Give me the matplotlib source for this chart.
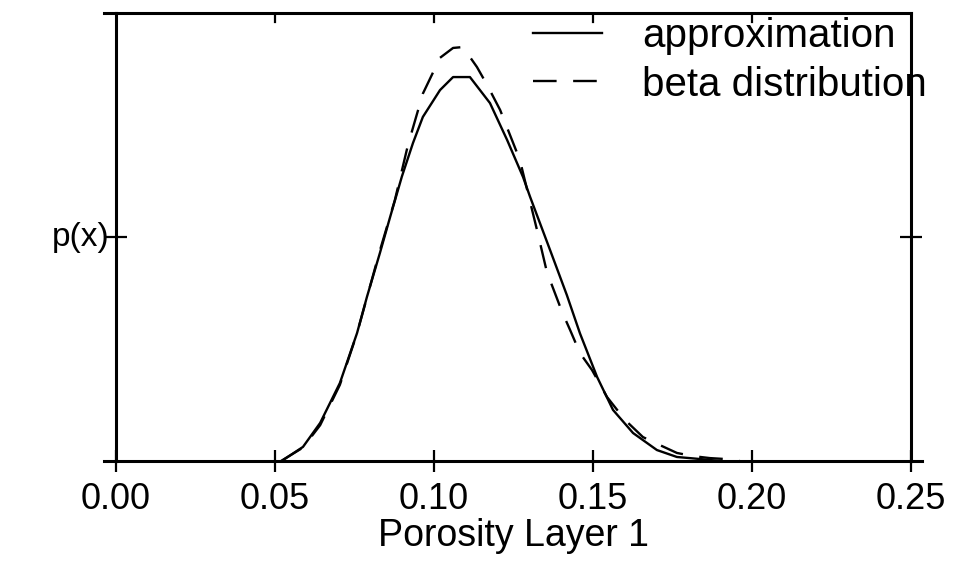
import matplotlib
matplotlib.use('Agg')
import matplotlib.pyplot as plt

plt.rcParams['font.family'] = ['Liberation Sans', 'DejaVu Sans']

# approximation curve
x_approx = [0.0525, 0.0588, 0.0642, 0.0704, 0.0758, 0.0789, 0.0830, 0.0862, 0.0899,
            0.0934, 0.0965, 0.1019, 0.1060, 0.1113, 0.1176, 0.1230, 0.1280, 0.1302,
            0.1365, 0.1418, 0.1459, 0.1513, 0.1563, 0.1626, 0.1701, 0.1764, 0.1836, 0.1899]
y_approx = [0.04, 0.63, 1.70, 3.48, 5.71, 7.32, 9.29, 10.89, 12.70,
            14.20, 15.36, 16.56, 17.14, 17.14, 15.98, 14.33, 12.68, 11.80,
            9.42, 7.40, 5.70, 3.75, 2.28, 1.25, 0.49, 0.18, 0.09, 0.0]

# beta distribution curve
x_beta = [0.0519, 0.0588, 0.0642, 0.0704, 0.0758, 0.0830, 0.0877, 0.0918, 0.0965,
          0.1019, 0.1060, 0.1091, 0.1135, 0.1167, 0.1208, 0.1270, 0.1324, 0.1355,
          0.1403, 0.1428, 0.1459, 0.1497, 0.1544, 0.1601, 0.1657, 0.1689, 0.1764,
          0.1814, 0.1868, 0.1915, 0.1962]
y_beta = [0.0, 0.60, 1.60, 3.40, 5.70, 9.40, 11.65, 14.10, 16.40,
          18.00, 18.44, 18.48, 17.59, 16.79, 15.67, 13.44, 10.31, 8.44,
          6.65, 5.85, 4.82, 4.06, 2.86, 1.83, 1.07, 0.85, 0.36,
          0.22, 0.13, 0.09, 0.0]

xticks = [0.00, 0.05, 0.10, 0.15, 0.20, 0.25]

fig = plt.figure(figsize=(9.54, 5.70), dpi=100)
ax = fig.add_axes([0.1216, 0.1912, 0.8333, 0.786])

ax.plot(x_approx, y_approx, color='black', lw=1.7, label='approximation')
ax.plot(x_beta, y_beta, color='black', lw=1.7, dashes=(10, 7), label='beta distribution')

ax.set_xlim(0, 0.25)
ax.set_ylim(0, 20)

for s in ax.spines.values():
    s.set_linewidth(2.2)

# spines stick out a bit past the corners
ax.plot([-0.015, 0], [1, 1], transform=ax.transAxes, color='black', lw=2.2, clip_on=False)
ax.plot([-0.015, 0], [0, 0], transform=ax.transAxes, color='black', lw=2.2, clip_on=False)
ax.plot([1, 1.014], [0, 0], transform=ax.transAxes, color='black', lw=2.2, clip_on=False)

ax.set_xticks(xticks)
ax.set_xticklabels(['%.2f' % v for v in xticks])
ax.tick_params(axis='x', bottom=True, top=False, direction='inout', length=16, width=1.6,
               labelsize=26, pad=7)
ax.set_yticks([10])
ax.set_yticklabels([''])
ax.tick_params(axis='y', left=True, right=True, direction='inout', length=16, width=1.6)

# short inward ticks along the top
for v in xticks[1:-1]:
    ax.plot([v, v], [1, 0.98], transform=ax.get_xaxis_transform(), color='black', lw=1.6)

ax.set_xlabel('Porosity Layer 1', fontsize=27, labelpad=1)
ax.set_ylabel('p(x)', fontsize=24, rotation=0, va='center', labelpad=14)

ax.legend(loc='upper left', bbox_to_anchor=(0.525, 0.99), frameon=False, fontsize=29,
          handlelength=1.7, handletextpad=1.0, borderaxespad=0, borderpad=0,
          labelspacing=0.25)

plt.savefig('out.png', dpi=100)
